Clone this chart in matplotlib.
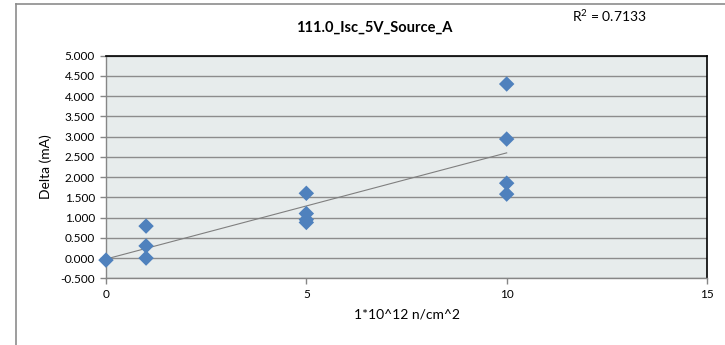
import numpy as np
import matplotlib
matplotlib.use("Agg")
import matplotlib.pyplot as plt
from matplotlib.ticker import FormatStrFormatter, MultipleLocator

# ---- data ------------------------------------------------------------------
fluence = [0, 1, 1, 1, 5, 5, 5, 5, 10, 10, 10, 10]
delta_ma = [-0.05, 0.79, 0.30, 0.00, 1.60, 1.10, 0.95, 0.88, 4.30, 2.94, 1.85, 1.58]
title = "111.0_Isc_5V_Source_A"
r2_text = "R$^2$ = 0.7133"

plt.rcParams['font.family'] = ['Lato', 'DejaVu Sans']
plt.rcParams['mathtext.default'] = 'regular'

fig = plt.figure(figsize=(7.25, 3.45), dpi=100)
ax = fig.add_axes([0.1462, 0.1933, 0.8290, 0.6453])

ax.set_facecolor('#E7ECEC')
ax.set_xlim(0, 15)
ax.set_ylim(-0.5, 5.0)
ax.xaxis.set_major_locator(MultipleLocator(5))
ax.yaxis.set_major_locator(MultipleLocator(0.5))
ax.yaxis.set_major_formatter(FormatStrFormatter('%.3f'))
ax.grid(True, axis='y', color='#8C8C8C', lw=1.0)
ax.set_axisbelow(True)

for side in ('left', 'bottom'):
    ax.spines[side].set_color('#868686')
    ax.spines[side].set_linewidth(1.0)
for side in ('top', 'right'):
    ax.spines[side].set_color('black')
    ax.spines[side].set_linewidth(1.2)
ax.tick_params(direction='out', length=4, width=1.0, color='#868686',
               labelsize=8.5, pad=4)

# linear trendline fitted to the points
x = np.array(fluence, dtype=float)
y = np.array(delta_ma)
slope, icpt = np.polyfit(x, y, 1)
xt = np.array([0, 10])
ax.plot(xt, slope * xt + icpt, color='#7F7F7F', lw=0.8, zorder=2)

ax.scatter(fluence, delta_ma, marker='D', s=62, color='#4F81BD',
           edgecolors='none', zorder=3, clip_on=False)

ax.set_xlabel("1*10^12 n/cm^2", fontsize=10, labelpad=6)
ax.set_ylabel("Delta (mA)", fontsize=10, labelpad=6)

fig.text(0.516, 0.921, title, ha='center', va='center', fontsize=10.5,
         fontweight='bold')
fig.text(0.841, 0.953, r2_text, ha='center', va='center', fontsize=10)

# outer chart frame (cropped at right/bottom)
fig.add_artist(plt.Line2D([0.022, 0.022], [0, 0.987], transform=fig.transFigure,
                          color='#8C8C8C', lw=1.2))
fig.add_artist(plt.Line2D([0.022, 1.0], [0.987, 0.987], transform=fig.transFigure,
                          color='#8C8C8C', lw=1.2))

fig.savefig('out.png', dpi=100)
